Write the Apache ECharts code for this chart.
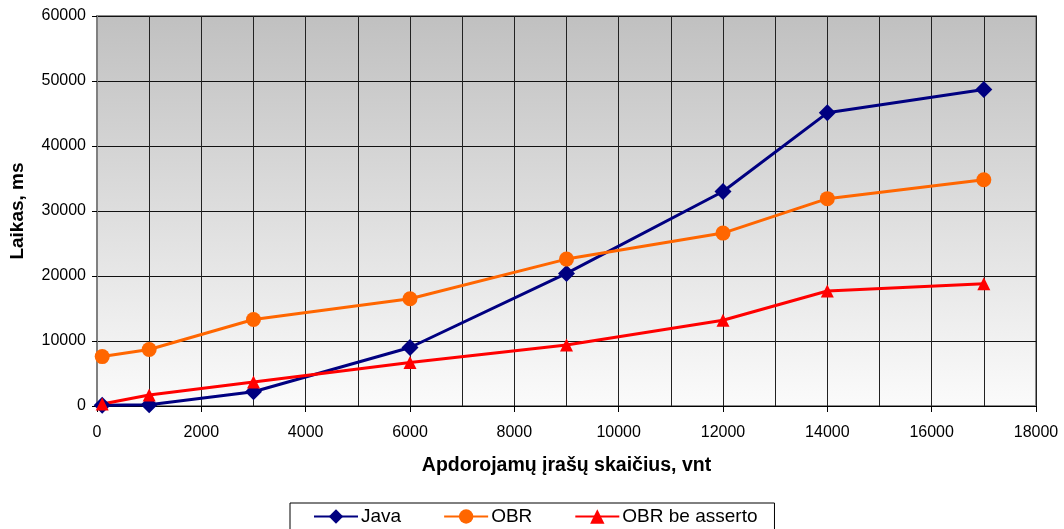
<!DOCTYPE html>
<html>
<head>
<meta charset="utf-8">
<script src="https://cdn.jsdelivr.net/npm/echarts@6/dist/echarts.min.js"></script>
<style>html,body{margin:0;padding:0;background:#fff}#c{width:1064px;height:529px}</style>
</head>
<body>
<div id="c"></div>
<script>
const records = [100, 1000, 3000, 6000, 9000, 12000, 14000, 17000];
const javaTimes = [100, 200, 2200, 9000, 20400, 33000, 45100, 48700];
const obrTimes = [7600, 8700, 13300, 16500, 22600, 26600, 31900, 34800];
const obrNoAssertTimes = [300, 1700, 3700, 6700, 9400, 13200, 17700, 18800];
const seriesNames = ['Java', 'OBR', 'OBR be asserto'];
const xTitle = 'Apdorojamų įrašų skaičius, vnt';
const yTitle = 'Laikas, ms';

const pairs = arr => records.map((x, i) => [x, arr[i]]);
const font = 'Liberation Sans, Arial, sans-serif';
const chart = echarts.init(document.getElementById('c'), null, {renderer: 'canvas'});
const mk = (name, data, color, symbol, size) => ({
  name, type: 'line', data: pairs(data), symbol, symbolSize: size,
  lineStyle: {color, width: 3}, itemStyle: {color}, z: 3
});
chart.setOption({
  animation: false,
  textStyle: {fontFamily: font},
  grid: {
    left: 97, right: 28, top: 16, bottom: 123, show: true,
    borderColor: '#8c8c8c', borderWidth: 2,
    backgroundColor: new echarts.graphic.LinearGradient(0, 0, 0, 1, [
      {offset: 0, color: '#c0c0c0'}, {offset: 1, color: '#fbfbfb'}])
  },
  xAxis: {
    type: 'value', min: 0, max: 18000, interval: 2000,
    name: xTitle, nameLocation: 'middle', nameGap: 50,
    nameTextStyle: {fontSize: 19.5, fontWeight: 'bold', color: '#000', fontFamily: font},
    axisLine: {show: true, lineStyle: {color: '#000', width: 1}},
    axisTick: {show: true, length: 6, lineStyle: {color: '#000'}},
    axisLabel: {fontSize: 16, color: '#000', margin: 19, fontFamily: font, formatter: v => String(v)},
    splitLine: {show: true, lineStyle: {color: '#222', width: 1}},
    minorTick: {show: false, splitNumber: 2},
    minorSplitLine: {show: true, lineStyle: {color: '#222', width: 1}}
  },
  yAxis: {
    type: 'value', min: 0, max: 60000, interval: 10000,
    name: yTitle, nameLocation: 'middle', nameGap: 70, nameRotate: 90,
    nameTextStyle: {fontSize: 19, fontWeight: 'bold', color: '#000', fontFamily: font},
    axisLine: {show: true, lineStyle: {color: '#808080', width: 2}},
    axisTick: {show: true, length: 5, lineStyle: {color: '#000'}},
    axisLabel: {fontSize: 16, color: '#000', margin: 11, fontFamily: font, formatter: v => String(v)},
    splitLine: {show: true, lineStyle: {color: '#111', width: 1}}
  },
  legend: {
    left: 290, top: 503,
    itemWidth: 44, itemHeight: 18, itemGap: 42,
    padding: [4, 17, 14, 23],
    borderColor: '#000', borderWidth: 1, backgroundColor: '#fff',
    textStyle: {fontSize: 19, color: '#000', fontFamily: font, padding: [0, 0, 0, -2]},
    data: seriesNames
  },
  series: [
    mk(seriesNames[0], javaTimes, '#000080', 'diamond', 17),
    mk(seriesNames[1], obrTimes, '#ff6600', 'circle', 15),
    mk(seriesNames[2], obrNoAssertTimes, '#ff0000', 'triangle', 13)
  ]
});
</script>
</body>
</html>
